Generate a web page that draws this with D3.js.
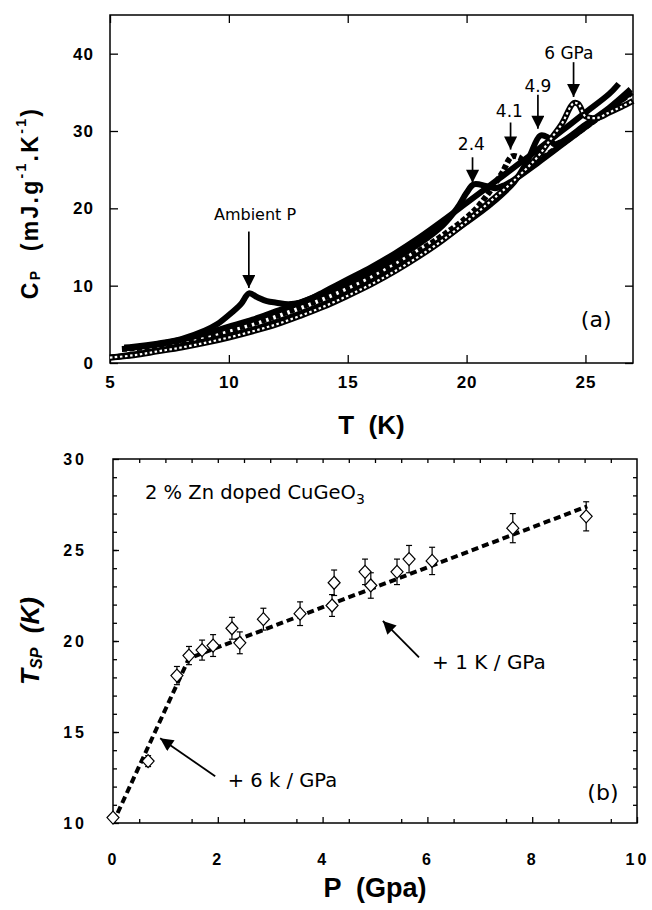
<!DOCTYPE html>
<html>
<head>
<meta charset="utf-8">
<script src="https://cdn.jsdelivr.net/npm/d3@7"></script>
<style>
  body { margin: 0; background: #fff; }
  svg { display: block; }
  .tick-label { font-family: "Liberation Sans", Arial, sans-serif; font-weight: bold; }
  .note { font-family: "DejaVu Sans", Verdana, sans-serif; fill: #000; }
</style>
</head>
<body>
<div id="chart"></div>
<script>
// ---- panel (a): heat capacity curves, T (K) vs Cp (mJ/g/K) ----
const tAmbient = [5.6, 6, 7, 8, 9, 9.5, 10, 10.5, 10.85, 11.2, 11.6, 12, 12.5, 13, 13.5, 14, 14.5, 15, 16, 17, 18, 19, 20, 21, 22, 23, 24, 25, 26, 26.4];
const cpAmbient = [2.0, 2.1, 2.5, 3.1, 4.2, 5.0, 6.2, 7.6, 9.0, 8.5, 8.0, 7.8, 7.6, 7.8, 8.4, 9.2, 10.0, 10.8, 12.4, 14.2, 16.2, 18.4, 20.7, 23.0, 25.3, 27.6, 30.0, 32.4, 34.8, 36.1];

const t24 = [5.6, 6, 7, 8, 9, 10, 11, 12, 13, 14, 15, 16, 17, 18, 19, 19.6, 20, 20.3, 20.8, 21.2, 21.6, 22, 23, 24, 25, 26, 26.9];
const cp24 = [1.9, 2.0, 2.4, 3.0, 3.8, 4.7, 5.6, 6.7, 7.8, 9.0, 10.3, 11.8, 13.5, 15.4, 17.8, 20.0, 22.0, 23.1, 22.9, 22.6, 23.0, 23.7, 25.9, 28.2, 30.5, 32.8, 35.0];

const t41 = [5.5, 6, 7, 8, 9, 10, 11, 12, 13, 14, 15, 16, 17, 18, 19, 20, 20.5, 21, 21.5, 21.9, 22.2, 22.6, 23, 24, 25, 26, 27];
const cp41 = [1.8, 1.9, 2.2, 2.7, 3.4, 4.2, 5.1, 6.1, 7.2, 8.4, 9.7, 11.1, 12.7, 14.5, 16.5, 18.8, 20.3, 22.3, 24.6, 26.7, 26.6, 25.5, 26.1, 28.3, 30.5, 32.8, 35.1];

const t49 = [5, 6, 7, 8, 9, 10, 11, 12, 13, 14, 15, 16, 17, 18, 19, 20, 21, 22, 22.6, 23.1, 23.4, 23.7, 24, 25, 26, 26.9];
const cp49 = [0.7, 1.1, 1.6, 2.2, 2.8, 3.5, 4.3, 5.3, 6.4, 7.6, 9.0, 10.5, 12.2, 14.0, 16.0, 18.2, 20.5, 23.4, 26.4, 29.4, 29.2, 28.3, 28.6, 30.8, 33.0, 35.4];

const t60 = [5, 6, 7, 8, 9, 10, 11, 12, 13, 14, 15, 16, 17, 18, 19, 20, 21, 22, 23, 23.5, 24, 24.5, 24.7, 25, 25.5, 26, 26.5, 27];
const cp60 = [0.7, 1.0, 1.5, 2.0, 2.6, 3.3, 4.1, 5.0, 6.1, 7.3, 8.7, 10.2, 11.9, 13.8, 15.9, 18.3, 20.9, 23.6, 26.7, 28.8, 30.9, 33.6, 33.5, 31.9, 31.7, 32.4, 33.1, 33.9];

// arrows of panel (a): label, T, label Cp, arrow start Cp, arrow end Cp
const peakLabels = ["Ambient P", "2.4", "4.1", "4.9", "6 GPa"];
const peakT = [10.84, 20.25, 21.85, 23.0, 24.5];
const peakLabelT = [11.1, 20.2, 21.8, 23.0, 24.3];
const peakLabelCp = [19.2, 28.3, 32.6, 35.8, 40.1];
const peakFromCp = [17.0, 26.6, 31.1, 34.7, 38.9];
const peakToCp = [9.7, 23.3, 27.6, 30.3, 34.4];

// ---- panel (b): transition temperature vs pressure ----
const pressure = [0, 0.67, 1.22, 1.45, 1.70, 1.91, 2.27, 2.42, 2.87, 3.57, 4.18, 4.22, 4.81, 4.92, 5.42, 5.65, 6.09, 7.63, 9.03];
const tsp = [10.3, 13.4, 18.1, 19.2, 19.5, 19.75, 20.7, 19.9, 21.2, 21.5, 21.95, 23.2, 23.8, 23.05, 23.8, 24.5, 24.4, 26.2, 26.85];
const tspErr = [0, 0.3, 0.5, 0.5, 0.55, 0.6, 0.6, 0.6, 0.6, 0.65, 0.6, 0.7, 0.7, 0.7, 0.7, 0.75, 0.75, 0.8, 0.8];
const fitP = [0, 1.45, 9.05];
const fitT = [10.0, 19.05, 27.4];

// tick labels
const aXTicks = [5, 10, 15, 20, 25];
const aYTicks = [0, 10, 20, 30, 40];
const bXTicks = [0, 2, 4, 6, 8, 10];
const bYTicks = [10, 15, 20, 25, 30];

const width = 652, height = 910;
const svg = d3.select('#chart')
  .append('svg')
  .attr('width', width)
  .attr('height', height);

const defs = svg.append('defs');
defs.append('marker')
  .attr('id', 'head')
  .attr('viewBox', '0 0 10 10')
  .attr('refX', 10).attr('refY', 5)
  .attr('markerUnits', 'userSpaceOnUse')
  .attr('markerWidth', 14).attr('markerHeight', 13)
  .attr('orient', 'auto')
  .append('path')
  .attr('d', 'M0,0 L10,5 L0,10 Z')
  .attr('fill', '#000');

// ================= panel (a) =================
const xA = d3.scaleLinear().domain([5, 27]).range([110, 633]);
const yA = d3.scaleLinear().domain([0, 45]).range([363, 15]);

const gA = svg.append('g');

function frame(g, x, y) {
  g.append('rect')
    .attr('x', x.range()[0]).attr('y', y.range()[1])
    .attr('width', x.range()[1] - x.range()[0])
    .attr('height', y.range()[0] - y.range()[1])
    .attr('fill', 'none').attr('stroke', '#000').attr('stroke-width', 1.5);
}

function styleAxis(sel, size) {
  sel.select('.domain').remove();
  sel.selectAll('line').attr('stroke', '#000').attr('stroke-width', 1.3);
  sel.selectAll('text')
    .attr('class', 'tick-label')
    .attr('font-size', size)
    .attr('fill', '#000');
}

gA.append('g').attr('transform', `translate(0, ${yA.range()[0]})`)
  .call(d3.axisBottom(xA).tickValues(aXTicks).tickSize(-8).tickPadding(13).tickFormat(d3.format('d')))
  .call((s) => styleAxis(s, 17));
gA.append('g').attr('transform', `translate(0, ${yA.range()[1]})`)
  .call(d3.axisTop(xA).tickValues(aXTicks).tickSize(-8).tickFormat(''))
  .call((s) => styleAxis(s, 17));
gA.append('g').attr('transform', `translate(${xA.range()[0]}, 0)`)
  .call(d3.axisLeft(yA).tickValues(aYTicks).tickSize(-8).tickPadding(16).tickFormat(d3.format('d')))
  .call((s) => styleAxis(s, 17));
gA.append('g').attr('transform', `translate(${xA.range()[1]}, 0)`)
  .call(d3.axisRight(yA).tickValues(aYTicks).tickSize(-8).tickFormat(''))
  .call((s) => styleAxis(s, 17));
gA.selectAll('.tick-label').attr('letter-spacing', 1);

frame(gA, xA, yA);

const lineA = d3.line()
  .x((d) => xA(d[0]))
  .y((d) => yA(d[1]))
  .curve(d3.curveCatmullRom.alpha(0.5));

const curves = [
  { t: t24, cp: cp24, dash: null },
  { t: tAmbient, cp: cpAmbient, dash: null },
  { t: t49, cp: cp49, dash: null },
  { t: t41, cp: cp41, dash: '5,2.5' },
  { t: t60, cp: cp60, dash: null, open: true }
];

curves.forEach((c) => {
  const pts = c.t.map((t, i) => [t, c.cp[i]]);
  gA.append('path')
    .attr('d', lineA(pts))
    .attr('fill', 'none')
    .attr('stroke', '#000')
    .attr('stroke-width', 6)
    .attr('stroke-linejoin', 'round')
    .attr('stroke-dasharray', c.dash);
  if (c.open) {
    gA.append('path')
      .attr('d', lineA(pts))
      .attr('fill', 'none')
      .attr('stroke', '#fff')
      .attr('stroke-width', 2.2)
      .attr('stroke-dasharray', '2.5,2.5');
  }
});

// peak arrows
peakLabels.forEach((lab, i) => {
  gA.append('line')
    .attr('x1', xA(peakT[i])).attr('x2', xA(peakT[i]))
    .attr('y1', yA(peakFromCp[i])).attr('y2', yA(peakToCp[i]))
    .attr('stroke', '#000').attr('stroke-width', 1.7)
    .attr('marker-end', 'url(#head)');
  gA.append('text')
    .attr('class', 'note')
    .attr('x', xA(peakLabelT[i]))
    .attr('y', yA(peakLabelCp[i]))
    .attr('text-anchor', 'middle')
    .attr('dominant-baseline', 'central')
    .attr('font-size', i === 0 ? 16 : 17)
    .text(lab);
});

gA.append('text')
  .attr('class', 'note')
  .attr('x', xA(25.45)).attr('y', yA(5.6))
  .attr('text-anchor', 'middle').attr('dominant-baseline', 'central')
  .attr('font-size', 22)
  .text('(a)');

// axis titles (a)
gA.append('text')
  .attr('class', 'tick-label')
  .attr('x', (xA.range()[0] + xA.range()[1]) / 2)
  .attr('y', 425)
  .attr('text-anchor', 'middle').attr('dominant-baseline', 'central')
  .attr('font-size', 26)
  .style('white-space', 'pre')
  .text('T  (K)');

const cpTitle = gA.append('text')
  .attr('class', 'tick-label')
  .attr('transform', 'translate(30, 203) rotate(-90)')
  .attr('text-anchor', 'middle').attr('dominant-baseline', 'central')
  .attr('font-size', 23)
  .attr('letter-spacing', 2.3)
  .style('white-space', 'pre');
cpTitle.append('tspan').text('C');
cpTitle.append('tspan').attr('font-size', 14).attr('dy', 5).text('P');
cpTitle.append('tspan').attr('dy', -5).text('  (mJ.g');
cpTitle.append('tspan').attr('font-size', 14).attr('dy', -9).text('-1');
cpTitle.append('tspan').attr('dy', 9).text('.K');
cpTitle.append('tspan').attr('font-size', 14).attr('dy', -9).text('-1');
cpTitle.append('tspan').attr('dy', 9).text(')');

// ================= panel (b) =================
const xB = d3.scaleLinear().domain([0, 10]).range([113, 637]);
const yB = d3.scaleLinear().domain([10, 30]).range([823, 459]);

const gB = svg.append('g');

// minor ticks
gB.append('g').attr('transform', `translate(0, ${yB.range()[0]})`)
  .call(d3.axisBottom(xB).tickValues(d3.range(0.5, 10, 1)).tickSize(-4).tickFormat(''))
  .call((s) => styleAxis(s, 16));
gB.append('g').attr('transform', `translate(0, ${yB.range()[1]})`)
  .call(d3.axisTop(xB).tickValues(d3.range(0.5, 10, 0.5)).tickSize(-4).tickFormat(''))
  .call((s) => styleAxis(s, 16));
gB.append('g').attr('transform', `translate(${xB.range()[0]}, 0)`)
  .call(d3.axisLeft(yB).tickValues(d3.range(11, 30, 1)).tickSize(-4).tickFormat(''))
  .call((s) => styleAxis(s, 16));
gB.append('g').attr('transform', `translate(${xB.range()[1]}, 0)`)
  .call(d3.axisRight(yB).tickValues(d3.range(11, 30, 1)).tickSize(-4).tickFormat(''))
  .call((s) => styleAxis(s, 16));

// major ticks with labels
gB.append('g').attr('transform', `translate(0, ${yB.range()[0]})`)
  .call(d3.axisBottom(xB).tickValues(bXTicks).tickSize(-6).tickPadding(31).tickFormat(d3.format('d')))
  .call((s) => styleAxis(s, 16));
gB.append('g').attr('transform', `translate(${xB.range()[0]}, 0)`)
  .call(d3.axisLeft(yB).tickValues(bYTicks).tickSize(-6).tickPadding(26).tickFormat(d3.format('d')))
  .call((s) => styleAxis(s, 16));
gB.selectAll('.tick-label').attr('letter-spacing', 3);

frame(gB, xB, yB);

// fit line
gB.append('path')
  .attr('d', d3.line().x((d) => xB(d[0])).y((d) => yB(d[1]))(fitP.map((p, i) => [p, fitT[i]])))
  .attr('fill', 'none')
  .attr('stroke', '#000')
  .attr('stroke-width', 4)
  .attr('stroke-dasharray', '7,4');

// error bars
const pts = pressure.map((p, i) => ({ p, t: tsp[i], e: tspErr[i] }));
const eb = gB.selectAll('.err')
  .data(pts.filter((d) => d.e > 0))
  .enter()
  .append('g')
  .attr('class', 'err');
eb.append('line')
  .attr('x1', (d) => xB(d.p)).attr('x2', (d) => xB(d.p))
  .attr('y1', (d) => yB(d.t - d.e)).attr('y2', (d) => yB(d.t + d.e))
  .attr('stroke', '#000').attr('stroke-width', 1.2);
[-1, 1].forEach((s) => {
  eb.append('line')
    .attr('x1', (d) => xB(d.p) - 3).attr('x2', (d) => xB(d.p) + 3)
    .attr('y1', (d) => yB(d.t + s * d.e)).attr('y2', (d) => yB(d.t + s * d.e))
    .attr('stroke', '#000').attr('stroke-width', 1.2);
});

// diamonds
gB.selectAll('.pt')
  .data(pts)
  .enter()
  .append('path')
  .attr('class', 'pt')
  .attr('transform', (d) => `translate(${xB(d.p)}, ${yB(d.t)})`)
  .attr('d', 'M0,-6.5 L6,0 L0,6.5 L-6,0 Z')
  .attr('fill', '#fff')
  .attr('stroke', '#000')
  .attr('stroke-width', 1.2);

// notes (b)
const title = gB.append('text')
  .attr('class', 'note')
  .attr('x', xB(0.61)).attr('y', yB(27.8))
  .attr('font-size', 19.5);
title.append('tspan').text('2 % Zn doped CuGeO');
title.append('tspan').attr('font-size', 14).attr('dy', 5).text('3');

const slopeNotes = [
  { text: '+ 1 K / GPa', p: 6.09, t: 18.85, size: 20, from: [5.84, 19.1], to: [5.15, 21.1] },
  { text: '+ 6 k / GPa', p: 2.19, t: 12.35, size: 19.5, from: [1.95, 12.57], to: [0.9, 14.66] }
];
slopeNotes.forEach((n) => {
  gB.append('line')
    .attr('x1', xB(n.from[0])).attr('y1', yB(n.from[1]))
    .attr('x2', xB(n.to[0])).attr('y2', yB(n.to[1]))
    .attr('stroke', '#000').attr('stroke-width', 1.8)
    .attr('marker-end', 'url(#head)');
  gB.append('text')
    .attr('class', 'note')
    .attr('x', xB(n.p)).attr('y', yB(n.t))
    .attr('dominant-baseline', 'central')
    .attr('font-size', n.size)
    .style('white-space', 'pre')
    .text(n.text);
});

gB.append('text')
  .attr('class', 'note')
  .attr('x', xB(9.35)).attr('y', yB(11.7))
  .attr('text-anchor', 'middle').attr('dominant-baseline', 'central')
  .attr('font-size', 22)
  .text('(b)');

gB.append('text')
  .attr('class', 'tick-label')
  .attr('x', (xB.range()[0] + xB.range()[1]) / 2)
  .attr('y', 888)
  .attr('text-anchor', 'middle').attr('dominant-baseline', 'central')
  .attr('font-size', 27)
  .style('white-space', 'pre')
  .text('P  (Gpa)');

const tTitle = gB.append('text')
  .attr('class', 'tick-label')
  .attr('transform', `translate(30, ${(yB.range()[0] + yB.range()[1]) / 2}) rotate(-90)`)
  .attr('text-anchor', 'middle').attr('dominant-baseline', 'central')
  .attr('font-size', 26)
  .attr('font-style', 'italic')
  .style('white-space', 'pre');
tTitle.append('tspan').text('T');
tTitle.append('tspan').attr('font-size', 16).attr('dy', 6).text('SP');
tTitle.append('tspan').attr('dy', -6).text('  (K)');
</script>
</body>
</html>
